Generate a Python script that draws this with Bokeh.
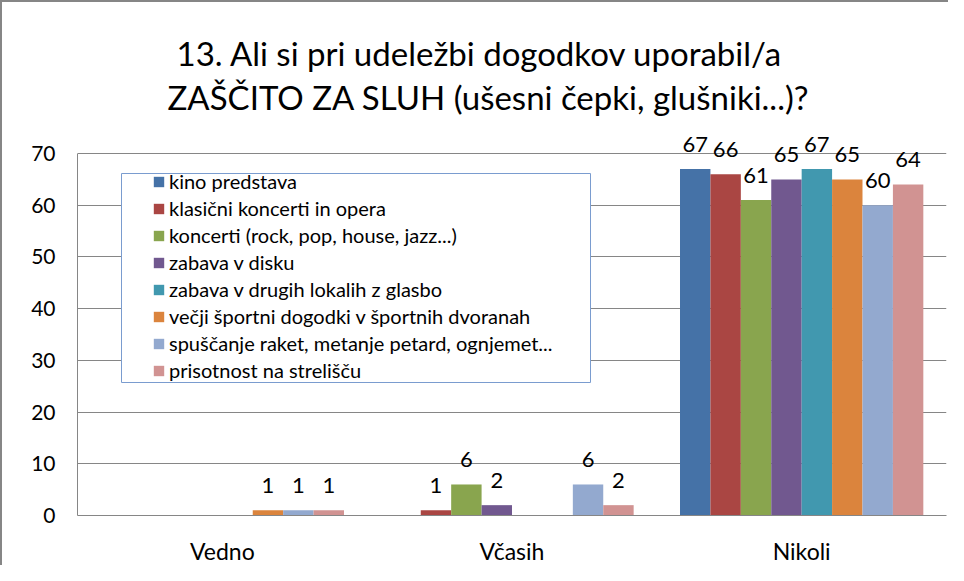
from bokeh.plotting import figure
from bokeh.models import (FactorRange, ColumnDataSource, Title, FixedTicker, Legend,
                          LegendItem, BoxAnnotation)
from bokeh.transform import dodge
from bokeh.core.properties import value
from bokeh.embed import file_html
from bokeh.resources import INLINE

categories = ["Vedno", "Včasih", "Nikoli"]
series_names = [
    "kino predstava",
    "klasični koncerti in opera",
    "koncerti (rock, pop, house, jazz...)",
    "zabava v disku",
    "zabava v drugih lokalih z glasbo",
    "večji športni dogodki v športnih dvoranah",
    "spuščanje raket, metanje petard, ognjemet...",
    "prisotnost na strelišču",
]
kino_predstava = [0, 0, 67]
klasicni_koncerti = [0, 1, 66]
koncerti_rock_pop = [0, 6, 61]
zabava_disko = [0, 2, 65]
zabava_lokali = [0, 0, 67]
sportni_dogodki = [1, 0, 65]
rakete_petarde = [1, 6, 60]
strelisce = [1, 2, 64]
series_values = [kino_predstava, klasicni_koncerti, koncerti_rock_pop, zabava_disko,
                 zabava_lokali, sportni_dogodki, rakete_petarde, strelisce]
colors = ["#4572A7", "#AA4643", "#89A54E", "#71588F", "#4198AF", "#DB843D", "#93A9CF", "#D19392"]
y_ticks = [0, 10, 20, 30, 40, 50, 60, 70]

FONT = "Lato"
p = figure(x_range=FactorRange(*categories), y_range=(0, 76),
           width=948, height=565, output_backend="svg", toolbar_location=None,
           min_border_left=75, min_border_right=4, min_border_bottom=51, min_border_top=120)
p.styles = {"border-left": "2px solid #868686", "border-top": "2px solid #868686"}

# legend frame (drawn behind the bars' legend entries)
legend_frame = BoxAnnotation(left=44, right=513, bottom=133, top=342,
                             left_units="screen", right_units="screen",
                             bottom_units="screen", top_units="screen",
                             fill_color="white", fill_alpha=1,
                             line_color="#7A9CCF", line_alpha=1, line_width=1)

bar_w = 0.105
n = len(series_names)
bar_renderers = []
for i, (name, vals, col) in enumerate(zip(series_names, series_values, colors)):
    off = (i - (n - 1) / 2) * bar_w
    src = ColumnDataSource(dict(cat=categories, val=vals))
    r = p.vbar(x=dodge("cat", off, range=p.x_range), top="val", width=bar_w, source=src,
               fill_color=col, line_color=None)
    bar_renderers.append(r)
    lab_cats = [c for c, v in zip(categories, vals) if v != 0]
    lab_vals = [v for v in vals if v != 0]
    lsrc = ColumnDataSource(dict(cat=lab_cats, val=lab_vals, txt=[str(v) for v in lab_vals]))
    p.text(x=dodge("cat", off, range=p.x_range), y="val", text="txt", source=lsrc,
           text_align="center", text_baseline="alphabetic", y_offset=-25,
           text_font=value(FONT), text_font_size="22px", text_color="black")

p.add_layout(Title(text="ZAŠČITO ZA SLUH (ušesni čepki, glušniki...)?", align="left",
                   text_font=FONT, text_font_size="33px", text_font_style="normal",
                   text_color="black", standoff=12, offset=90), "above")
p.add_layout(Title(text="13. Ali si pri udeležbi dogodkov uporabil/a", align="left",
                   text_font=FONT, text_font_size="33px", text_font_style="normal",
                   text_color="black", standoff=-8, offset=99), "above")

p.outline_line_color = None
p.xgrid.grid_line_color = None
p.ygrid.grid_line_color = "#868686"
p.ygrid.grid_line_width = 1
p.yaxis.ticker = FixedTicker(ticks=y_ticks)
p.yaxis.bounds = (0, 70)
for ax in (p.xaxis, p.yaxis):
    ax.axis_line_color = "#868686"
    ax.axis_line_width = 1
    ax.major_tick_line_color = None
    ax.minor_tick_line_color = None
    ax.major_tick_out = 0
    ax.major_tick_in = 0
    ax.minor_tick_out = 0
    ax.minor_tick_in = 0
    ax.major_label_text_font = FONT
    ax.major_label_text_color = "black"
p.yaxis.major_label_text_font_size = "21px"
p.xaxis.major_label_text_font_size = "23px"
p.yaxis.major_label_standoff = 22
p.xaxis.major_label_standoff = 21

p.add_layout(legend_frame)

items_legend = Legend(items=[LegendItem(label=nm, renderers=[r])
                             for nm, r in zip(series_names, bar_renderers)],
                      location=(75, 133), padding=0, margin=0, spacing=3,
                      glyph_width=13, glyph_height=13, label_standoff=4,
                      label_height=23,
                      label_text_font=FONT, label_text_font_size="20px",
                      label_text_color="black",
                      border_line_color=None, background_fill_alpha=0)
p.add_layout(items_legend, "center")

open("out.html", "w").write(file_html(p, INLINE))
